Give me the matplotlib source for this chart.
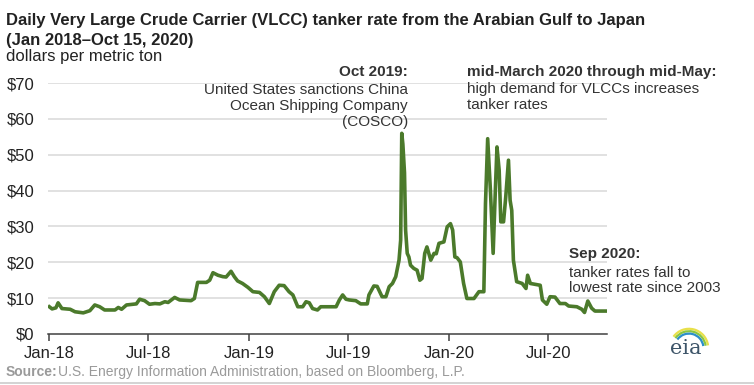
import numpy as np
import pandas as pd
import matplotlib
matplotlib.use('Agg')
import matplotlib.pyplot as plt
import matplotlib.dates as mdates
from matplotlib.patches import Arc

plt.rcParams['font.family'] = ['Liberation Sans', 'DejaVu Sans']

# values (dollars per metric ton)
dates = ['2018-01-01', '2018-01-06', '2018-01-13', '2018-01-17', '2018-01-24', '2018-02-08',
         '2018-02-17', '2018-03-04', '2018-03-16', '2018-03-25', '2018-04-03', '2018-04-12',
         '2018-05-01', '2018-05-07', '2018-05-13', '2018-05-22', '2018-06-09', '2018-06-15',
         '2018-06-24', '2018-07-03', '2018-07-13', '2018-07-22', '2018-07-31', '2018-08-06',
         '2018-08-18', '2018-08-27', '2018-09-17', '2018-09-23', '2018-09-29', '2018-10-15',
         '2018-10-21', '2018-10-27', '2018-11-05', '2018-11-14', '2018-11-20', '2018-11-29',
         '2018-12-05', '2018-12-11', '2018-12-20', '2018-12-30', '2019-01-08', '2019-01-20',
         '2019-01-29', '2019-02-07', '2019-02-16', '2019-02-25', '2019-03-06', '2019-03-15',
         '2019-03-22', '2019-03-31', '2019-04-09', '2019-04-15', '2019-04-21', '2019-04-27',
         '2019-05-06', '2019-05-12', '2019-06-09', '2019-06-15', '2019-06-21', '2019-06-27',
         '2019-07-03', '2019-07-15', '2019-07-24', '2019-08-05', '2019-08-08', '2019-08-17',
         '2019-08-23', '2019-09-01', '2019-09-08', '2019-09-14', '2019-09-20', '2019-09-26',
         '2019-10-02', '2019-10-05', '2019-10-07', '2019-10-09', '2019-10-12', '2019-10-14',
         '2019-10-17', '2019-10-20', '2019-10-23', '2019-10-29', '2019-11-04', '2019-11-09',
         '2019-11-13', '2019-11-18', '2019-11-22', '2019-11-29', '2019-12-05', '2019-12-09',
         '2019-12-14', '2019-12-23', '2019-12-29', '2020-01-04', '2020-01-08', '2020-01-12',
         '2020-01-16', '2020-01-22', '2020-01-28', '2020-02-03', '2020-02-16', '2020-02-25',
         '2020-03-05', '2020-03-08', '2020-03-12', '2020-03-17', '2020-03-22', '2020-03-26',
         '2020-03-29', '2020-04-02', '2020-04-05', '2020-04-10', '2020-04-14', '2020-04-19',
         '2020-04-22', '2020-04-25', '2020-04-28', '2020-05-04', '2020-05-14', '2020-05-21',
         '2020-05-24', '2020-05-29', '2020-06-16', '2020-06-20', '2020-06-28', '2020-07-04',
         '2020-07-13', '2020-07-22', '2020-08-01', '2020-08-07', '2020-08-22', '2020-08-31',
         '2020-09-05', '2020-09-11', '2020-09-18', '2020-09-24', '2020-10-15']
rates = [7.6, 7.0, 7.3, 8.7, 7.1, 6.9,
         6.2, 5.9, 6.5, 8.1, 7.6, 6.7,
         6.7, 7.4, 6.9, 8.1, 8.4, 9.7,
         9.3, 8.3, 8.5, 8.4, 9.0, 8.8,
         10.2, 9.5, 9.3, 9.9, 14.4, 14.4,
         15.0, 17.1, 16.4, 16.0, 15.9, 17.5,
         16.0, 14.8, 14.1, 13.0, 11.8, 11.6,
         10.4, 8.5, 11.8, 13.6, 13.5, 11.8,
         10.9, 7.6, 7.6, 9.0, 8.7, 7.1,
         6.7, 7.6, 7.6, 9.5, 10.9, 9.7,
         9.5, 9.3, 8.4, 8.4, 10.9, 13.4,
         13.3, 10.4, 10.4, 13.2, 14.1, 16.0,
         20.6, 26.2, 56.0, 53.0, 45.0, 29.0,
         22.5, 21.5, 19.2, 18.3, 17.8, 15.0,
         15.5, 22.5, 24.3, 20.6, 22.5, 22.4,
         25.3, 25.7, 29.9, 30.8, 29.0, 21.5,
         21.3, 20.1, 14.1, 9.9, 9.9, 11.8,
         11.8, 36.4, 54.5, 40.1, 22.5, 40.0,
         52.2, 45.7, 31.3, 31.3, 38.2, 48.5,
         37.3, 34.5, 20.6, 14.6, 14.1, 12.7,
         16.4, 14.1, 13.6, 9.5, 8.3, 10.4,
         10.3, 8.5, 8.5, 7.8, 7.6, 6.9,
         6.0, 9.2, 7.2, 6.4, 6.4]
yticks = [0, 10, 20, 30, 40, 50, 60, 70]
xticks = ['2018-01-01', '2018-07-01', '2019-01-01', '2019-07-01', '2020-01-01', '2020-07-01']

df = pd.DataFrame({'date': pd.to_datetime(dates), 'rate': rates})

fig = plt.figure(figsize=(7.54, 3.85), dpi=100)
ax = fig.add_axes([0.064, 0.1325, 0.741, 0.6515])

ax.plot(df['date'], df['rate'], color='#4b7a2b', lw=2.6, solid_joinstyle='round')

ax.set_ylim(0, 70)
ax.set_xlim(pd.Timestamp('2017-12-30'), pd.Timestamp('2020-10-16'))
ax.set_yticks(yticks)
ax.set_yticklabels(['$%d' % v for v in yticks])
ax.set_xticks(pd.to_datetime(xticks))
ax.xaxis.set_major_formatter(mdates.DateFormatter('%b-%y'))
for y in yticks[1:]:
    ax.axhline(y, color='#d9d9d9', lw=1.1, zorder=0)
for s in ['top', 'right', 'left']:
    ax.spines[s].set_visible(False)
ax.spines['bottom'].set_color('#404040')
ax.spines['bottom'].set_linewidth(1.1)
ax.tick_params(axis='y', length=0, labelsize=12, pad=10, labelcolor='#222222')
ax.tick_params(axis='x', length=5, width=1.1, color='#404040', labelsize=12, pad=4,
               labelcolor='#222222')

# titles
fig.text(0.008, 1 - 21 / 385, 'Daily Very Large Crude Carrier (VLCC) tanker rate from the Arabian Gulf to Japan',
         fontsize=12, fontweight='bold', va='center', color='#222222')
fig.text(0.008, 1 - 40 / 385, '(Jan 2018\u2013Oct 15, 2020)', fontsize=12, fontweight='bold',
         va='center', color='#222222')
fig.text(0.008, 1 - 57 / 385, 'dollars per metric ton', fontsize=12, va='center', color='#222222')

# annotations
txt = '#333333'
fig.text(408 / 754, 1 - 72 / 385, 'Oct 2019:', fontsize=11, fontweight='bold', ha='right',
         va='center', color=txt)
fig.text(408 / 754, 1 - 106 / 385, 'United States sanctions China\nOcean Shipping Company\n(COSCO)',
         fontsize=11, ha='right', va='center', color=txt, linespacing=1.17)
fig.text(467 / 754, 1 - 72 / 385, 'mid-March 2020 through mid-May:', fontsize=11,
         fontweight='bold', ha='left', va='center', color=txt)
fig.text(467 / 754, 1 - 97 / 385, 'high demand for VLCCs increases\ntanker rates', fontsize=11,
         ha='left', va='center', color=txt, linespacing=1.17)
fig.text(569 / 754, 1 - 254 / 385, 'Sep 2020:', fontsize=11, fontweight='bold', ha='left',
         va='center', color=txt)
fig.text(569 / 754, 1 - 280.5 / 385, 'tanker rates fall to\nlowest rate since 2003', fontsize=11,
         ha='left', va='center', color=txt, linespacing=1.17)

# source
fig.text(0.007, 1 - 372 / 385, 'Source:', fontsize=10, fontweight='bold', va='center',
         color='#9a9a9a')
fig.text(58 / 754, 1 - 372 / 385, 'U.S. Energy Information Administration, based on Bloomberg, L.P.',
         fontsize=10, va='center', color='#9a9a9a')
fig.add_artist(plt.Line2D([0, 1], [1 - 383 / 385] * 2, color='#cccccc', lw=1.2,
                          transform=fig.transFigure))

# eia logo
fig.text(686 / 754, 1 - 349 / 385, 'eia', fontsize=15, family='DejaVu Serif', ha='center',
         va='center', color='#3e5569')
lx, ly = 689 / 754, 1 - 348 / 385
for r, c in [(24, '#e8e04a'), (21, '#8cc63f'), (18, '#2c8fc9')]:
    fig.add_artist(Arc((lx, ly), r / 754 * 1.6, r / 385 * 1.6, theta1=15, theta2=125, color=c,
                       lw=1.6, transform=fig.transFigure))

fig.savefig('out.png', dpi=100)
